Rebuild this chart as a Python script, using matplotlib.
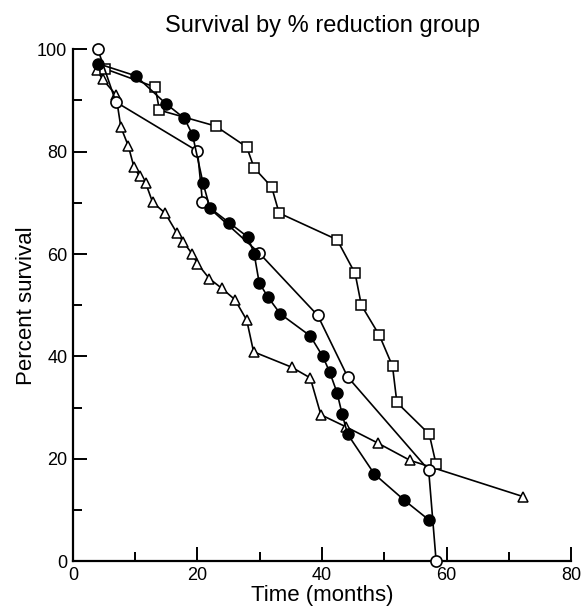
import matplotlib
matplotlib.use("Agg")
import matplotlib.pyplot as plt
from matplotlib.ticker import MultipleLocator

# months, percent survival
open_t = [4.0, 6.9, 20.0, 20.8, 29.9, 39.3, 44.1, 57.1, 58.3]
open_s = [100, 89.7, 80.1, 70.2, 60.2, 48.0, 36.0, 17.8, 0]

filled_t = [4.0, 10.1, 14.9, 17.9, 19.2, 20.9, 22.0, 25.1, 28.1, 29.1, 29.9,
            31.3, 33.3, 38.1, 40.1, 41.2, 42.4, 43.2, 44.1, 48.4, 53.2, 57.2]
filled_s = [97.2, 94.8, 89.4, 86.5, 83.3, 73.8, 69.0, 66.1, 63.3, 60.0, 54.4,
            51.6, 48.3, 44.0, 40.0, 37.0, 32.9, 28.8, 24.8, 17.0, 11.9, 8.0]

square_t = [5.1, 13.2, 13.9, 22.9, 27.9, 29.1, 31.9, 33.1, 42.4, 45.3, 46.3,
            49.2, 51.3, 52.0, 57.2, 58.3]
square_s = [96.2, 92.6, 88.1, 85.0, 80.9, 76.8, 73.1, 68.0, 62.8, 56.2, 50.0,
            44.1, 38.1, 31.0, 24.8, 18.9]

tri_t = [3.8, 4.8, 6.9, 7.7, 8.9, 9.8, 10.7, 11.7, 12.8, 14.8, 16.7, 17.7,
         19.1, 20.0, 21.9, 23.9, 26.0, 27.9, 29.0, 35.1, 38.1, 39.8, 43.9,
         48.9, 54.1, 72.3]
tri_s = [96.0, 94.1, 91.1, 84.8, 81.1, 77.0, 75.2, 73.8, 70.1, 68.0, 64.1,
         62.4, 60.1, 58.1, 55.2, 53.3, 51.1, 47.1, 40.9, 37.9, 35.8, 28.6,
         26.2, 23.1, 19.7, 12.6]

plt.rcParams["font.family"] = ["Liberation Sans", "DejaVu Sans"]

fig = plt.figure(figsize=(5.83, 6.08), dpi=100)
ax = fig.add_axes([0.125, 0.077, 0.855, 0.842])

lw = 1.2
ax.plot(tri_t, tri_s, color="black", lw=lw, marker="^", ms=6.5, mfc="white",
        mec="black", mew=1.1, clip_on=False, zorder=3)
ax.plot(square_t, square_s, color="black", lw=lw, marker="s", ms=6.5, mfc="white",
        mec="black", mew=1.1, clip_on=False, zorder=3)
ax.plot(open_t, open_s, color="black", lw=lw, marker="o", ms=8, mfc="white",
        mec="black", mew=1.2, clip_on=False, zorder=4)
ax.plot(filled_t, filled_s, color="black", lw=lw, marker="o", ms=8, mfc="black",
        mec="black", clip_on=False, zorder=5)

ax.set_xlim(0, 80)
ax.set_ylim(0, 100)
ax.xaxis.set_major_locator(MultipleLocator(20))
ax.xaxis.set_minor_locator(MultipleLocator(10))
ax.yaxis.set_major_locator(MultipleLocator(20))
ax.yaxis.set_minor_locator(MultipleLocator(10))
ax.tick_params(which="major", direction="in", length=10, width=1.4, labelsize=13, pad=4)
ax.tick_params(which="minor", direction="in", length=6.5, width=1.4)

for side in ["top", "right"]:
    ax.spines[side].set_visible(False)
for side in ["left", "bottom"]:
    ax.spines[side].set_linewidth(1.6)

ax.set_xlabel("Time (months)", fontsize=16, labelpad=1)
ax.set_ylabel("Percent survival", fontsize=16, labelpad=0)
ax.set_title("Survival by % reduction group", fontsize=17, pad=12.5)

fig.savefig("out.png", dpi=100)
